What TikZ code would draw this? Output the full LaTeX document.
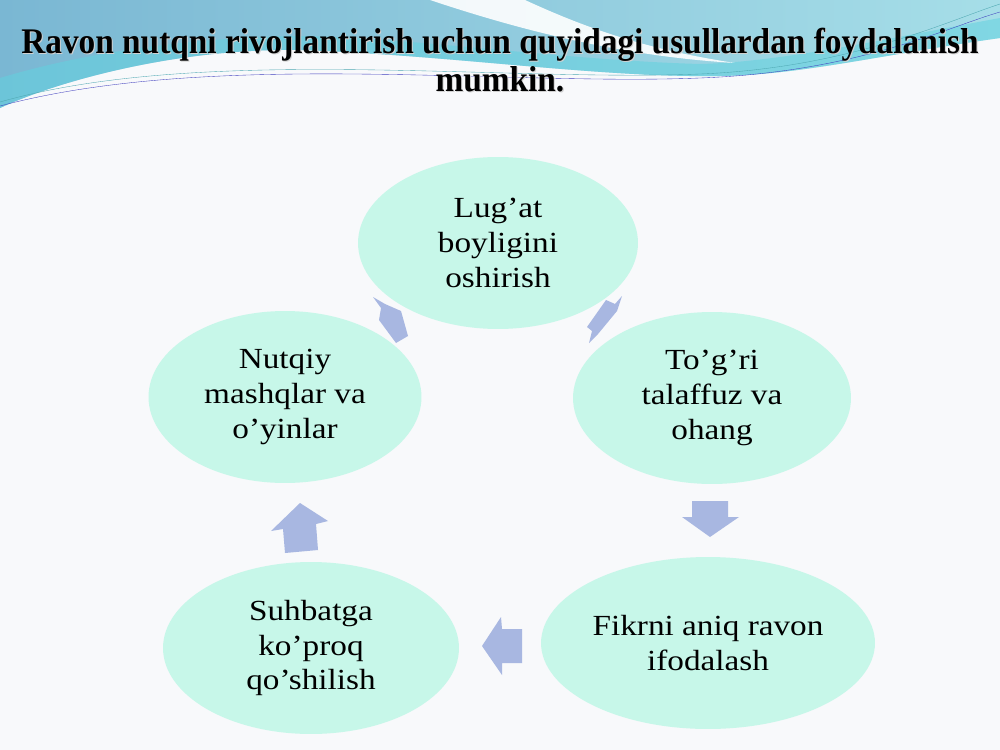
\documentclass[tikz,border=0pt]{standalone}
\usepackage{fontspec}
\setmainfont{Liberation Serif}
\newfontfamily\titlefont[FakeStretch=0.925]{Liberation Serif}
\newfontfamily\ideafont[FakeStretch=1.14]{Liberation Serif}
\usetikzlibrary{shapes.geometric}
\definecolor{mint}{RGB}{199,247,233}
\definecolor{flowblue}{RGB}{168,183,225}
\definecolor{paper}{RGB}{248,249,251}
\definecolor{bandblue}{RGB}{122,183,211}
\definecolor{bandcyan}{RGB}{98,210,223}
\definecolor{bandlight}{RGB}{166,222,232}
\begin{document}
\begin{tikzpicture}[x=0.02cm,y=-0.02cm]
        \tikzstyle{idea}=[ellipse,fill=mint,inner sep=0pt,minimum height=3.44cm,align=center,
          font=\ideafont\fontsize{16.6}{19.8}\selectfont]
        \tikzstyle{flow}=[fill=flowblue]
        \tikzstyle{heading}=[align=center,inner sep=0pt,font=\titlefont\bfseries\fontsize{20.5}{21.6}\selectfont]
        \useasboundingbox (0,0) rectangle (1000,750);
        \fill[paper] (0,0) rectangle (1000,750);
        % top band
        \shade[left color=bandblue,right color=bandlight] (0,0) -- (1000,0) -- (1000,38)
          .. controls (880,55) and (800,75) .. (720,76)
          .. controls (600,78) and (450,55) .. (300,50)
          .. controls (180,48) and (60,80) .. (0,108) -- cycle;
        \fill[bandcyan,opacity=0.55] (0,108) .. controls (60,80) and (180,48) .. (300,50)
          .. controls (450,55) and (600,78) .. (720,76)
          .. controls (800,75) and (880,55) .. (1000,38) -- (1000,18)
          .. controls (880,40) and (780,62) .. (700,64)
          .. controls (560,60) and (420,38) .. (300,36)
          .. controls (160,38) and (60,60) .. (0,78) -- cycle;
        \fill[white,opacity=0.9] (430,0) -- (525,0) .. controls (590,30) and (650,50) .. (735,63)
          .. controls (620,56) and (520,30) .. (430,0);
        \draw[bandcyan!80!black,very thin] (0,102) .. controls (200,45) and (500,82) .. (700,74)
          .. controls (850,68) and (950,20) .. (1000,4);
        \draw[blue!50!gray,very thin] (0,106) .. controls (210,50) and (500,86) .. (700,78)
          .. controls (860,72) and (950,26) .. (1000,12);
        % title
        \node[heading,text=black!18] (shadow) at (501,61) {Ravon nutqni rivojlantirish uchun quyidagi usullardan foydalanish\\mumkin.};
        \node[heading] (title) at (500,60) {Ravon nutqni rivojlantirish uchun quyidagi usullardan foydalanish\\mumkin.};
        % cycle
        \node[idea,minimum width=5.6cm] (lugat) at (498,243) {Lug’at\\boyligini\\oshirish};
        \node[idea,minimum width=5.56cm] (talaffuz) at (712,398) {To’g’ri\\talaffuz va\\ohang};
        \node[idea,minimum width=6.68cm] (fikr) at (708,643) {Fikrni aniq ravon\\ifodalash};
        \node[idea,minimum width=5.92cm] (suhbat) at (311,648) {Suhbatga\\ko’proq\\qo’shilish};
        \node[idea,minimum width=5.46cm] (mashq) at (285,397) {Nutqiy\\mashqlar va\\o’yinlar};
        % arrows
        \fill[flow] (373,297) -- (385,304) -- (401,311) -- (408,336) -- (396,343) -- (379,320) -- (381,308) -- cycle;
        \fill[flow] (622,296) -- (617,311) -- (598,334) -- (589,343) -- (592,331) -- (587,327) -- (606,300) -- (615,304) -- cycle;
        \fill[flow] (692,501) -- (728,501) -- (728,517) -- (739,517) -- (710,537) -- (682,517) -- (692,517) -- cycle;
        \fill[flow] (522,629) -- (522,663) -- (502,663) -- (502,675) -- (482,646) -- (501,617) -- (502,629) -- cycle;
        \fill[flow] (285,553) -- (318,550) -- (316,524) -- (328,521) -- (300,503) -- (271,531) -- (283,529) -- cycle;
\end{tikzpicture}
\end{document}
